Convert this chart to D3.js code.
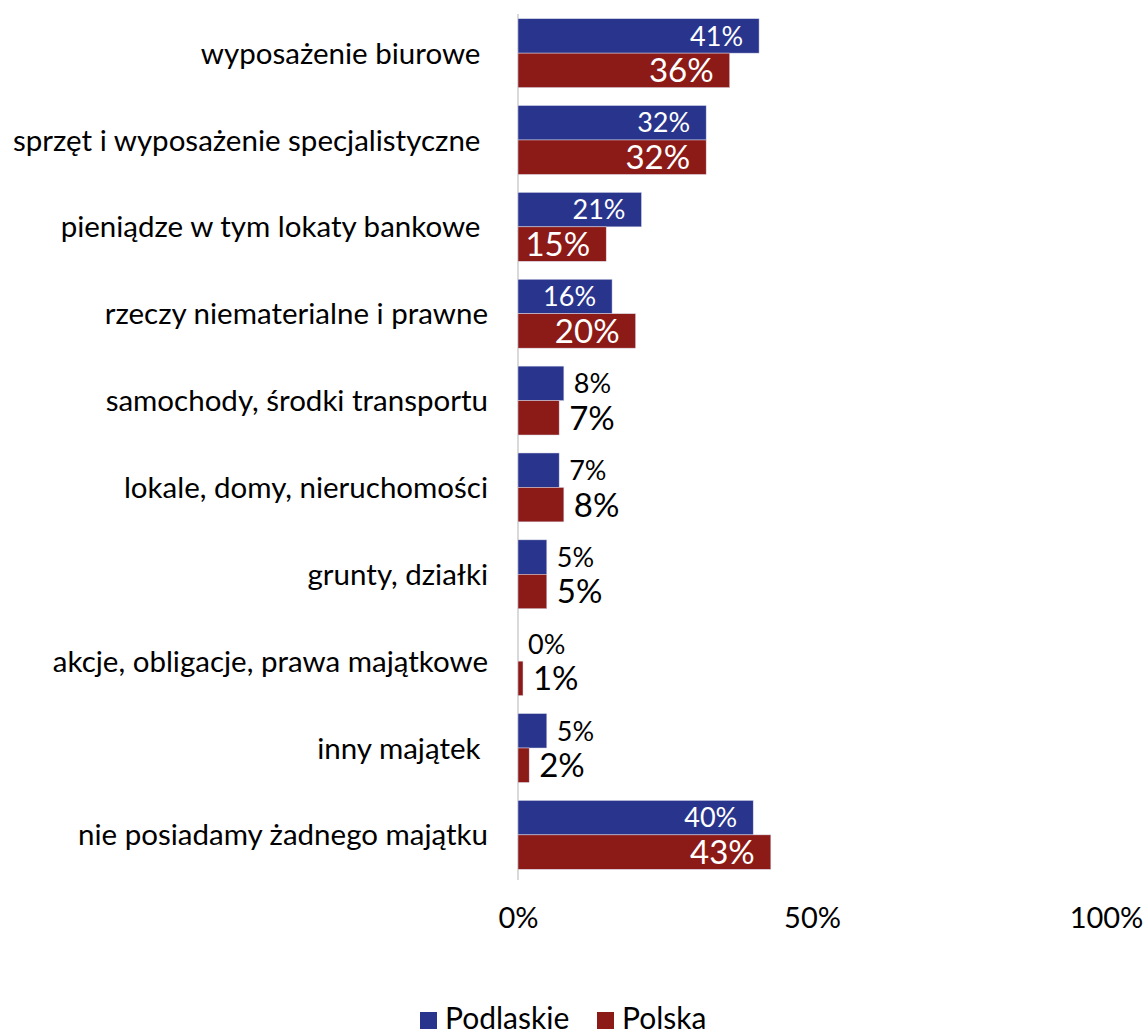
<!DOCTYPE html>
<html><head><meta charset="utf-8">
<script src="https://cdn.jsdelivr.net/npm/d3@7"></script>
<style>body{margin:0;background:#fff}svg{display:block;font-family:Lato,"Open Sans",sans-serif}</style>
</head><body>
<svg id="c" width="1144" height="1032"></svg>
<script>
const categories = ["wyposażenie biurowe ","sprzęt i wyposażenie specjalistyczne ","pieniądze w tym lokaty bankowe ","rzeczy niematerialne i prawne","samochody, środki transportu","lokale, domy, nieruchomości","grunty, działki","akcje, obligacje, prawa majątkowe","inny majątek ","nie posiadamy żadnego majątku"];
const seriesNames = ["Podlaskie","Polska"];
const podlaskie = [0.41,0.32,0.21,0.16,0.078,0.07,0.049,0,0.049,0.40];
const polska = [0.36,0.32,0.15,0.20,0.07,0.078,0.049,0.0085,0.019,0.43];
const podlaskieLabels = ["41%","32%","21%","16%","8%","7%","5%","0%","5%","40%"];
const polskaLabels = ["36%","32%","15%","20%","7%","8%","5%","1%","2%","43%"];
const ticks = [0,0.5,1];
const colors = ["#29358d","#8c1a17"];

const svg = d3.select("#c");
const x = d3.scaleLinear().domain([0,1]).range([518,1106]);
const y = d3.scaleBand().domain(categories).range([10,878]).paddingInner(0.207).paddingOuter(0.1);
const sub = d3.scaleBand().domain(seriesNames).range([0,y.bandwidth()]);

// axis line
svg.append("line").attr("x1",x(0)).attr("x2",x(0)).attr("y1",14).attr("y2",880)
  .attr("stroke","#d9d9d9").attr("stroke-width",2);

const series = [podlaskie, polska];
const labels = [podlaskieLabels, polskaLabels];
const fsz = [27,33];
series.forEach((vals,si)=>{
  const g = svg.append("g");
  categories.forEach((c,i)=>{
    const v = vals[i];
    const y0 = y(c)+sub(seriesNames[si]);
    const h = sub.bandwidth();
    if (v>0) g.append("rect").attr("x",x(0)).attr("y",y0).attr("width",x(v)-x(0)).attr("height",h)
      .attr("fill",colors[si]).attr("stroke","#d9d9e9").attr("stroke-width",0.5);
    const inside = v>0.12;
    g.append("text")
      .attr("x", inside ? x(v)-16 : x(v)+10)
      .attr("y", y0+h/2)
      .attr("dy","0.36em")
      .attr("text-anchor", inside ? "end":"start")
      .attr("fill", inside ? "#fff" : "#000")
      .attr("font-size", fsz[si])
      .text(labels[si][i]);
  });
});

// category labels
svg.append("g").selectAll("text").data(categories).join("text")
  .attr("x",488).attr("y",d=>y(d)+y.bandwidth()/2).attr("dy","0.36em")
  .attr("text-anchor","end").attr("font-size",29.5).attr("fill","#000")
  .attr("xml:space","preserve").style("white-space","pre")
  .text(d=>d);

// x tick labels
const xa = d3.axisBottom(x).tickValues(ticks).tickFormat(d3.format(".0%")).tickSize(0).tickPadding(0);
const ag = svg.append("g").attr("transform","translate(0,918)").call(xa);
ag.select(".domain").remove();
ag.selectAll("text").attr("font-size",29).attr("fill","#000").attr("dy","0.36em").attr("font-family","Lato,'Open Sans',sans-serif");

// legend
const lg = svg.append("g");
const lx = [420,597];
seriesNames.forEach((n,i)=>{
  lg.append("rect").attr("x",lx[i]).attr("y",1012).attr("width",17).attr("height",17).attr("fill",colors[i]);
  lg.append("text").attr("x",lx[i]+25).attr("y",1029).attr("font-size",30).attr("fill","#000").text(n);
});
</script>
</body></html>
